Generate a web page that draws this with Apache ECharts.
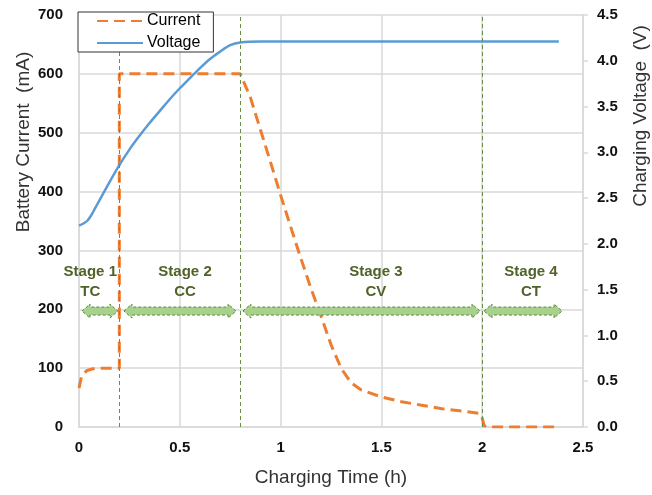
<!DOCTYPE html>
<html><head><meta charset="utf-8">
<script src="https://cdn.jsdelivr.net/npm/echarts@6/dist/echarts.min.js"></script>
<style>html,body{margin:0;padding:0;background:#fff}#c{width:652px;height:495px}</style>
</head><body><div id="c"></div>
<script>
// Data
const currentData = [[0,66],[0.01,82],[0.02,90],[0.04,96],[0.07,99],[0.12,100],[0.2,100],[0.2,600],[0.8,600],[0.85,560],[0.9,505],[0.95,450],[1.0,394],[1.05,340],[1.1,287],[1.15,236],[1.2,189],[1.25,140],[1.3,100],[1.35,75],[1.4,63],[1.5,51],[1.6,43],[1.7,37],[1.8,31],[1.9,27],[1.99,23],[2.0,15],[2.01,2],[2.03,0],[2.38,0]];
const voltageData = [[0,2.2],[0.02,2.22],[0.04,2.25],[0.06,2.31],[0.08,2.39],[0.1,2.47],[0.15,2.67],[0.2,2.86],[0.25,3.03],[0.3,3.18],[0.35,3.32],[0.4,3.45],[0.45,3.58],[0.5,3.70],[0.55,3.81],[0.6,3.92],[0.65,4.02],[0.7,4.1],[0.75,4.17],[0.8,4.2],[0.9,4.21],[1.0,4.21],[1.5,4.21],[2.0,4.21],[2.38,4.21]];
const stageBoundaries = [0.2, 0.8, 2.0];
// stage arrows: [xStart, xEnd, yArrow, xLabel, yLabel, label]
const stageArrows = [
  [0.015, 0.193, 197, 0.056, 246, 'Stage 1\nTC'],
  [0.223, 0.779, 197, 0.526, 246, 'Stage 2\nCC'],
  [0.813, 1.989, 197, 1.473, 246, 'Stage 3\nCV'],
  [2.009, 2.396, 197, 2.242, 246, 'Stage 4\nCT']
];
const xTicks = {min:0, max:2.5, interval:0.5};
const yLeftTicks = {min:0, max:700, interval:100};
const yRightTicks = {min:0, max:4.5, interval:0.5};

const chart = echarts.init(document.getElementById('c'));
const FONT = 'Liberation Sans, Arial, sans-serif';
const grid = '#d9d9d9';
const option = {
  animation:false,
  grid:{left:79,right:69,top:15,bottom:68},
  legend:{
    data:['Current','Voltage'], orient:'vertical', left:78, top:12, z:20,
    borderColor:'#333', borderWidth:1, backgroundColor:'#fff', padding:[1,13,1,18],
    itemWidth:46, itemHeight:14, itemGap:6, borderRadius:0,
    itemStyle:{opacity:0},
    textStyle:{fontFamily:FONT, fontSize:16, color:'#000', padding:[0,0,0,-1]}
  },
  xAxis:{type:'value', min:xTicks.min, max:xTicks.max, interval:xTicks.interval,
    axisLine:{lineStyle:{color:grid,width:1.5}}, axisTick:{show:false},
    splitLine:{lineStyle:{color:grid,width:1.5}},
    axisLabel:{fontFamily:FONT,fontWeight:'bold',fontSize:15,color:'#111',margin:13}},
  yAxis:[
    {type:'value', min:yLeftTicks.min, max:yLeftTicks.max, interval:yLeftTicks.interval,
     axisLine:{show:true,lineStyle:{color:grid,width:1.5}}, axisTick:{show:false},
     splitLine:{lineStyle:{color:grid,width:1.5}},
     axisLabel:{fontFamily:FONT,fontWeight:'bold',fontSize:15,color:'#111',margin:16}},
    {type:'value', min:yRightTicks.min, max:yRightTicks.max, interval:yRightTicks.interval, position:'right',
     axisLine:{show:true,lineStyle:{color:grid,width:1.5}}, axisTick:{show:true,length:5,lineStyle:{color:grid,width:1.5}},
     splitLine:{show:false},
     axisLabel:{fontFamily:FONT,fontWeight:'bold',fontSize:15,color:'#111',margin:14,formatter:v=>v.toFixed(1)}}
  ],
  graphic:[
    {type:'text', style:{text:'Battery Current  (mA)', font:'19px '+FONT, fill:'#333', textAlign:'center', textVerticalAlign:'middle'}, rotation:Math.PI/2, x:24, y:142},
    {type:'text', style:{text:'Charging Voltage  (V)', font:'19px '+FONT, fill:'#333', textAlign:'center', textVerticalAlign:'middle'}, rotation:Math.PI/2, x:641, y:116},
    {type:'text', style:{text:'Charging Time (h)', font:'19px '+FONT, fill:'#333', textAlign:'center', textVerticalAlign:'middle'}, x:331, y:478}
  ],
  series:[
    {name:'Current', type:'line', yAxisIndex:0, data:currentData, showSymbol:false, symbol:'none', smooth:false,
     lineStyle:{color:'#ED7D31', width:3, type:[11,6]}, itemStyle:{color:'#ED7D31'}, z:3,
     markLine:{silent:true, symbol:'none', label:{show:false},
       lineStyle:{color:'#6b8f47', type:[4,3], width:1},
       data:stageBoundaries.map(v=>({xAxis:v}))}},
    {name:'Voltage', type:'line', yAxisIndex:1, data:voltageData, showSymbol:false, symbol:'none', smooth:0.3,
     lineStyle:{color:'#5B9BD5', width:2.5}, itemStyle:{color:'#5B9BD5'}, z:4},
    {name:'stages', type:'custom', yAxisIndex:0, data:stageArrows, z:5,
     renderItem:function(params, api){
       const a = api.coord([api.value(0), api.value(2)]);
       const b = api.coord([api.value(1), api.value(2)]);
       const t = api.coord([api.value(3), api.value(4)]);
       const y = a[1], x0=a[0], x1=b[0], h=8, H=7, s=4;
       const pts = [[x0,y],[x0+h,y-H],[x0+h,y-s],[x1-h,y-s],[x1-h,y-H],[x1,y],[x1-h,y+H],[x1-h,y+s],[x0+h,y+s],[x0+h,y+H]];
       return {type:'group', children:[
         {type:'polygon', shape:{points:pts}, style:{fill:'#a9d18e', stroke:'#5a8a3a', lineWidth:1, lineDash:[3,2]}},
         {type:'text', x:t[0], y:t[1], style:{text:stageArrows[params.dataIndex][5], font:'bold 15px '+FONT, fill:'#4f6228', textAlign:'center', textVerticalAlign:'middle', lineHeight:20}}
       ]};
     }}
  ]
};
chart.setOption(option);
</script></body></html>
